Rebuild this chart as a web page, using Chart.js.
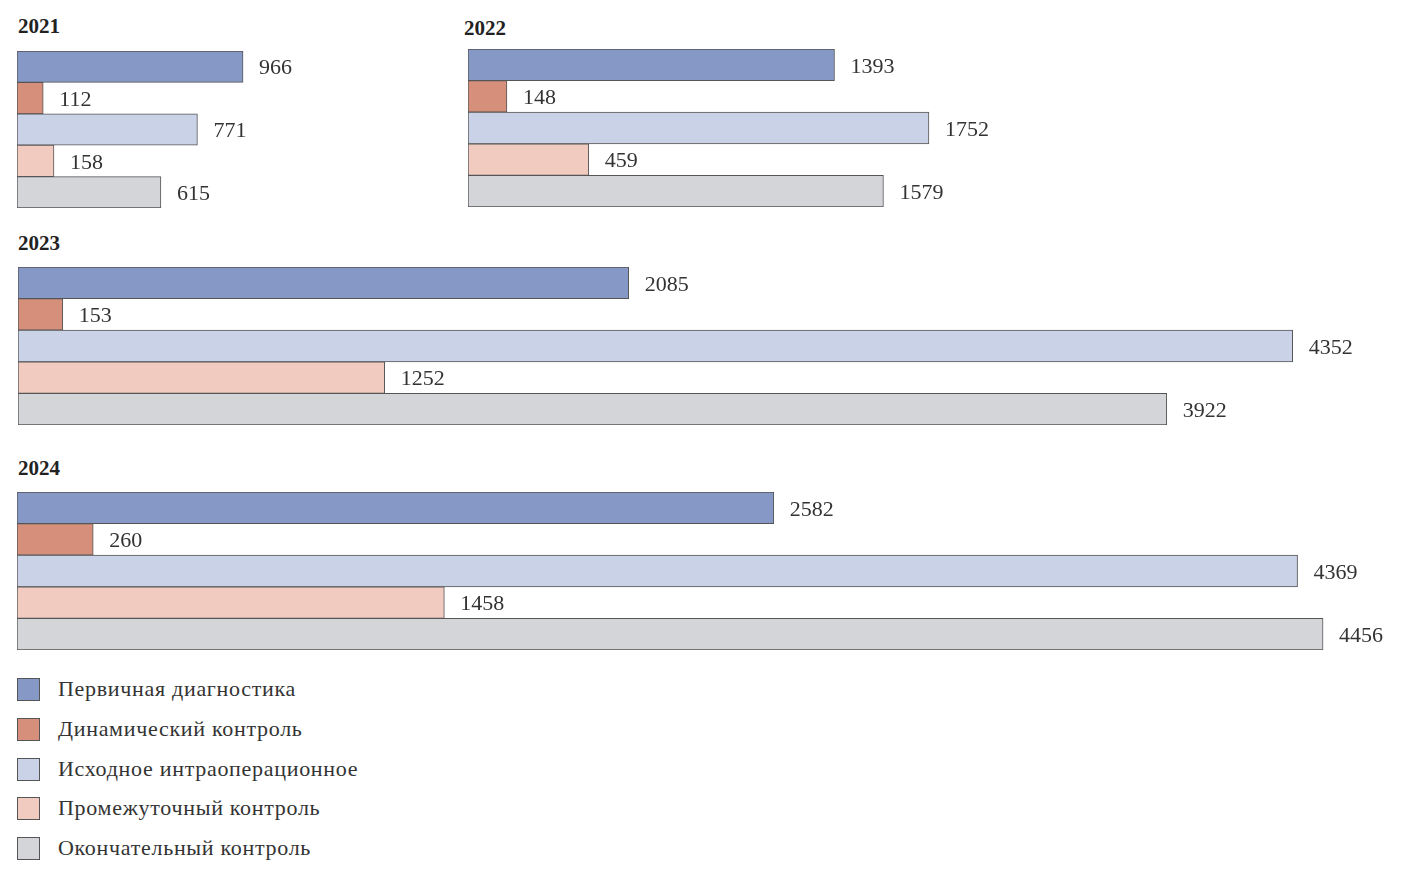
<!DOCTYPE html>
<html><head><meta charset="utf-8">
<script src="https://cdn.jsdelivr.net/npm/chart.js@4"></script>
<style>
body{margin:0;width:1404px;height:875px;background:#fff;position:relative;font-family:"Liberation Serif","DejaVu Serif",serif;overflow:hidden}
.t{position:absolute;font-weight:bold;font-size:21px;color:#222}
.c{position:absolute}
.lg{position:absolute;left:17px;font-size:22px;letter-spacing:0.7px;color:#333;display:flex;align-items:center}
.lg span{display:inline-block;width:23px;height:23px;border:1px solid #555;margin-right:18px;box-sizing:border-box}
</style></head><body>
<script>
const categories=["Первичная диагностика","Динамический контроль","Исходное интраоперационное","Промежуточный контроль","Окончательный контроль"];
const years=["2021","2022","2023","2024"];
const v2021=[966,112,771,158,615];
const v2022=[1393,148,1752,459,1579];
const v2023=[2085,153,4352,1252,3922];
const v2024=[2582,260,4369,1458,4456];
const colors=["#8598c6","#d58f7b","#c9d2e6","#f1cbbf","#d3d5d8"];
const panels=[
 {year:"2021",data:v2021,left:17,top:51,w:420,h:157,scale:0.2340,tx:18,ty:14},
 {year:"2022",data:v2022,left:468,top:49,w:600,h:158,scale:0.2631,tx:464,ty:16},
 {year:"2023",data:v2023,left:18,top:267,w:1380,h:158,scale:0.2929,tx:18,ty:231},
 {year:"2024",data:v2024,left:17,top:492,w:1387,h:158,scale:0.2931,tx:18,ty:456}
];
const lbl={id:'lbl',afterDatasetsDraw(ch){const c=ch.ctx;const m=ch.getDatasetMeta(0);c.save();c.font='22px "Liberation Serif", serif';c.fillStyle='#333';c.textBaseline='middle';
 m.data.forEach((b,i)=>{c.fillText(String(ch.data.datasets[0].data[i]),b.x+16,b.y+2);});c.restore();}};
panels.forEach(p=>{
 const t=document.createElement('div');t.className='t';t.style.left=p.tx+'px';t.style.top=p.ty+'px';t.textContent=p.year;document.body.appendChild(t);
 const d=document.createElement('div');d.className='c';d.style.left=p.left+'px';d.style.top=p.top+'px';d.style.width=p.w+'px';d.style.height=p.h+'px';
 const cv=document.createElement('canvas');d.appendChild(cv);document.body.appendChild(d);
 new Chart(cv,{type:'bar',data:{labels:categories,datasets:[{data:p.data,backgroundColor:colors,borderColor:'#555',borderWidth:1,borderSkipped:false,categoryPercentage:1,barPercentage:1}]},
 options:{indexAxis:'y',responsive:true,maintainAspectRatio:false,animation:false,layout:{padding:0},
 plugins:{legend:{display:false},tooltip:{enabled:false}},
 scales:{x:{display:false,min:0,max:p.w/p.scale},y:{display:false}}},plugins:[lbl]});
});
const ly=[689,729,769,808,848];
categories.forEach((c,i)=>{const e=document.createElement('div');e.className='lg';e.style.top=(ly[i]-13)+'px';
 e.innerHTML='<span style="background:'+colors[i]+'"></span>'+c;document.body.appendChild(e);});
</script>
</body></html>
